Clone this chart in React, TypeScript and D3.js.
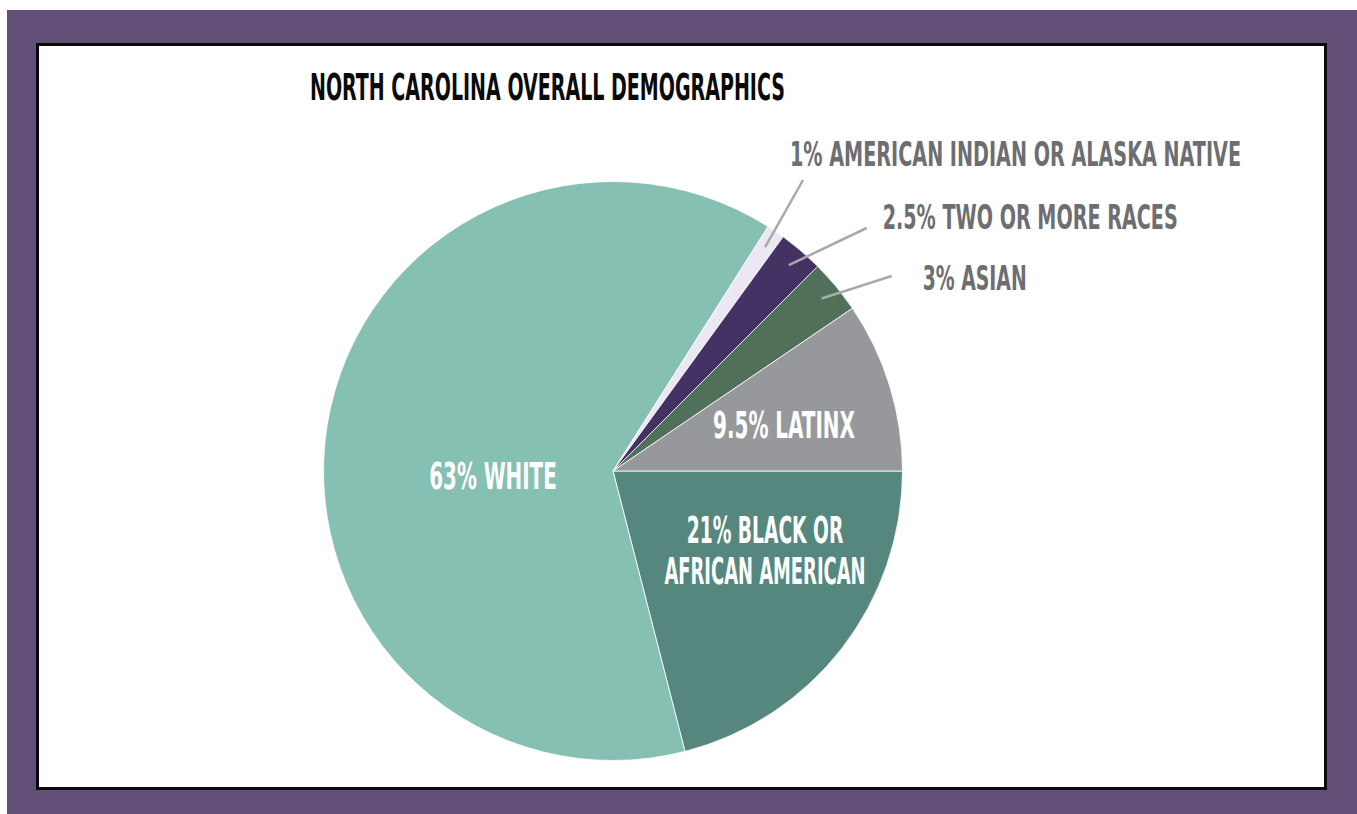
import React from "react";
import * as d3 from "d3";

const categories = [
  "Black or African American",
  "White",
  "American Indian or Alaska Native",
  "Two or More Races",
  "Asian",
  "Latinx",
];
const values = [21, 63, 1, 2.5, 3, 9.5];
const sliceColors = ["#55877e", "#85c0b3", "#ebe8f4", "#443264", "#507059", "#97989b"];
const labelLines = [
  ["21% BLACK OR", "AFRICAN AMERICAN"],
  ["63% WHITE"],
  ["1% AMERICAN INDIAN OR ALASKA NATIVE"],
  ["2.5% TWO OR MORE RACES"],
  ["3% ASIAN"],
  ["9.5% LATINX"],
];
const title = "NORTH CAROLINA OVERALL DEMOGRAPHICS";

// layout (not data)
const W = 1357;
const H = 814;
const CX = 613;
const CY = 471;
const R = 289.5;
const FONT = "'Liberation Sans Narrow', 'DejaVu Sans Condensed', 'Roboto', sans-serif";

type Lay =
  | { kind: "in"; dx: number; dy: number; widths: number[]; gap: number }
  | { kind: "out"; x: number; y: number; width: number; ex: number; ey: number };
const labelLayout: Lay[] = [
  { kind: "in", dx: 152, dy: 71.5, widths: [156.6, 201], gap: 41 },
  { kind: "in", dx: -120, dy: 17.5, widths: [127.4], gap: 0 },
  { kind: "out", x: 790, y: 166, width: 451, ex: 13, ey: 14 },
  { kind: "out", x: 882.7, y: 229, width: 295, ex: -16, ey: -1 },
  { kind: "out", x: 922.7, y: 290, width: 104, ex: -31, ey: -14 },
  { kind: "in", dx: 171, dy: -33.5, widths: [142], gap: 0 },
];

export default function App() {
  const pie = d3
    .pie<number>()
    .sort(null)
    .value((d) => d)
    .startAngle(Math.PI / 2)
    .endAngle(Math.PI / 2 + 2 * Math.PI);
  const arcs = pie(values);
  const arc = d3.arc<d3.PieArcDatum<number>>().innerRadius(0).outerRadius(R);

  return (
    <svg
      width={W}
      height={H}
      style={{ position: "absolute", left: 0, top: 0, display: "block" }}
    >
      <rect x={0} y={0} width={W} height={H} fill="#ffffff" />
      <rect x={7} y={10} width={W - 7} height={H - 10} fill="#614f78" />
      <rect x={37.5} y={44.5} width={1288} height={744} fill="#ffffff" stroke="#0a0a0a" strokeWidth={3} />

      <text
        x={310}
        y={99.5}
        fontFamily={FONT}
        fontWeight="bold"
        fontSize={38}
        fill="#0a0a0a"
        textLength={475}
        lengthAdjust="spacingAndGlyphs"
      >
        {title}
      </text>

      <g transform={`translate(${CX},${CY})`}>
        {arcs.map((a, i) => (
          <path
            key={categories[i]}
            d={arc(a) || ""}
            fill={sliceColors[i]}
            stroke="#ffffff"
            strokeWidth={0.8}
          />
        ))}
      </g>

      {arcs.map((a, i) => {
        const lay = labelLayout[i];
        if (lay.kind === "in") {
          const lines = labelLines[i];
          return (
            <g key={"l" + i}>
              {lines.map((t, j) => (
                <text
                  key={j}
                  x={CX + lay.dx}
                  y={CY + lay.dy + j * lay.gap}
                  textAnchor="middle"
                  fontFamily={FONT}
                  fontWeight="bold"
                  fontSize={37}
                  fill="#ffffff"
                  textLength={lay.widths[j]}
                  lengthAdjust="spacingAndGlyphs"
                >
                  {t}
                </text>
              ))}
            </g>
          );
        }
        const mid = (a.startAngle + a.endAngle) / 2;
        const rr = R * 0.935;
        const sx = CX + Math.sin(mid) * rr;
        const sy = CY - Math.cos(mid) * rr;
        return (
          <g key={"l" + i}>
            <line
              x1={sx}
              y1={sy}
              x2={lay.x + lay.ex}
              y2={lay.y + lay.ey}
              stroke="#a7a9ac"
              strokeWidth={2.5}
            />
            <text
              x={lay.x}
              y={lay.y}
              fontFamily={FONT}
              fontWeight="bold"
              fontSize={34}
              fill="#6d6e71"
              textLength={lay.width}
              lengthAdjust="spacingAndGlyphs"
            >
              {labelLines[i][0]}
            </text>
          </g>
        );
      })}
    </svg>
  );
}
